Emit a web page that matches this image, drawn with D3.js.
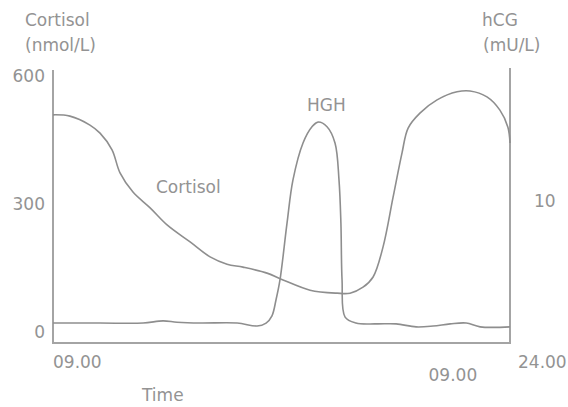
<!DOCTYPE html>
<html>
<head>
<meta charset="utf-8">
<script src="https://cdn.jsdelivr.net/npm/d3@7"></script>
<style>
  body { margin: 0; background: #fff; }
  text { font-family: "DejaVu Sans", sans-serif; font-size: 17px; fill: #939393; }
</style>
</head>
<body>
<script>
// hours after 09.00
const cortisolHours = [0, 0.89, 1.94, 2.47, 3.10, 3.52, 4.20, 5.10, 5.99, 7.20, 8.25, 9.14, 9.98, 11.24, 12.08, 13.50, 14.92, 15.60, 16.28, 16.81, 17.33, 17.86, 18.33, 18.65, 19.27, 20.17, 21.22, 21.90, 22.79, 23.47, 23.89, 24];
const cortisolValues = [509, 506, 485, 466, 427, 373, 328, 291, 251, 211, 176, 159, 152, 138, 122, 98, 91, 91, 105, 129, 199, 316, 420, 478, 513, 544, 563, 565, 551, 520, 480, 443];

const hghHours = [0, 2.47, 4.73, 5.78, 6.51, 7.72, 9.67, 10.72, 11.19, 11.50, 11.71, 11.92, 12.29, 12.60, 13.13, 13.60, 13.92, 14.39, 14.81, 15.02, 15.12, 15.18, 15.34, 15.91, 16.97, 18.02, 19.07, 19.96, 20.86, 21.70, 22.43, 24];
const hghValues = [21, 21, 21, 26, 23, 21, 21, 14, 21, 38, 75, 122, 255, 356, 443, 481, 492, 481, 443, 356, 255, 122, 35, 21, 19, 19, 12, 14, 19, 21, 12, 12];

const leftTicks = [0, 300, 600];
const rightTicks = [10];
const timeLabels = ["09.00", "09.00", "24.00"];
const timeLabelHours = [0, 21, 24];

const width = 568, height = 407;
const svg = d3.select('body').append('svg')
    .attr('width', width)
    .attr('height', height);

const x = d3.scaleLinear().domain([0, 24]).range([53, 510]);
const y = d3.scaleLinear().domain([0, 600]).range([332, 76]);
const yRight = d3.scaleLinear().domain([0, 20]).range([332, 70]);

// frame: left, bottom, right
svg.append('path')
    .attr('d', `M${x(0)},70 V343 H${x(24)} V68`)
    .attr('fill', 'none')
    .attr('stroke', '#a4a4a4')
    .attr('stroke-width', 2);

const line = d3.line()
    .x(d => x(d[0]))
    .y(d => y(d[1]))
    .curve(d3.curveCatmullRom.alpha(0.5));

svg.append('path')
    .datum(d3.zip(cortisolHours, cortisolValues))
    .attr('d', line)
    .attr('fill', 'none')
    .attr('stroke', '#8e8e8e')
    .attr('stroke-width', 1.6);

svg.append('path')
    .datum(d3.zip(hghHours, hghValues))
    .attr('d', line)
    .attr('fill', 'none')
    .attr('stroke', '#8e8e8e')
    .attr('stroke-width', 1.6);

// left ticks
svg.selectAll('.lt').data(leftTicks).enter()
  .append('text')
    .attr('x', 45)
    .attr('y', d => y(d) + 6)
    .attr('text-anchor', 'end')
    .text(d => d);

svg.selectAll('.rt').data(rightTicks).enter()
  .append('text')
    .attr('x', 534)
    .attr('y', d => yRight(d) + 6)
    .text(d => d);

// time labels
svg.selectAll('.tl').data(timeLabels).enter()
  .append('text')
    .attr('x', (d, i) => i === 2 ? x(timeLabelHours[i]) + 8 : x(timeLabelHours[i]))
    .attr('y', (d, i) => i === 1 ? 381 : 368)
    .attr('text-anchor', (d, i) => i === 1 ? 'middle' : 'start')
    .text(d => d);

svg.append('text').attr('x', 142).attr('y', 401).text('Time');

// axis titles
svg.append('text').attr('x', 25).attr('y', 26).text('Cortisol');
svg.append('text').attr('x', 25).attr('y', 51).text('(nmol/L)');
svg.append('text').attr('x', 482).attr('y', 26).text('hCG');
svg.append('text').attr('x', 483).attr('y', 51).text('(mU/L)');

// curve labels
svg.append('text').attr('x', 307).attr('y', 111).text('HGH');
svg.append('text').attr('x', 156).attr('y', 193).text('Cortisol');
</script>
</body>
</html>
